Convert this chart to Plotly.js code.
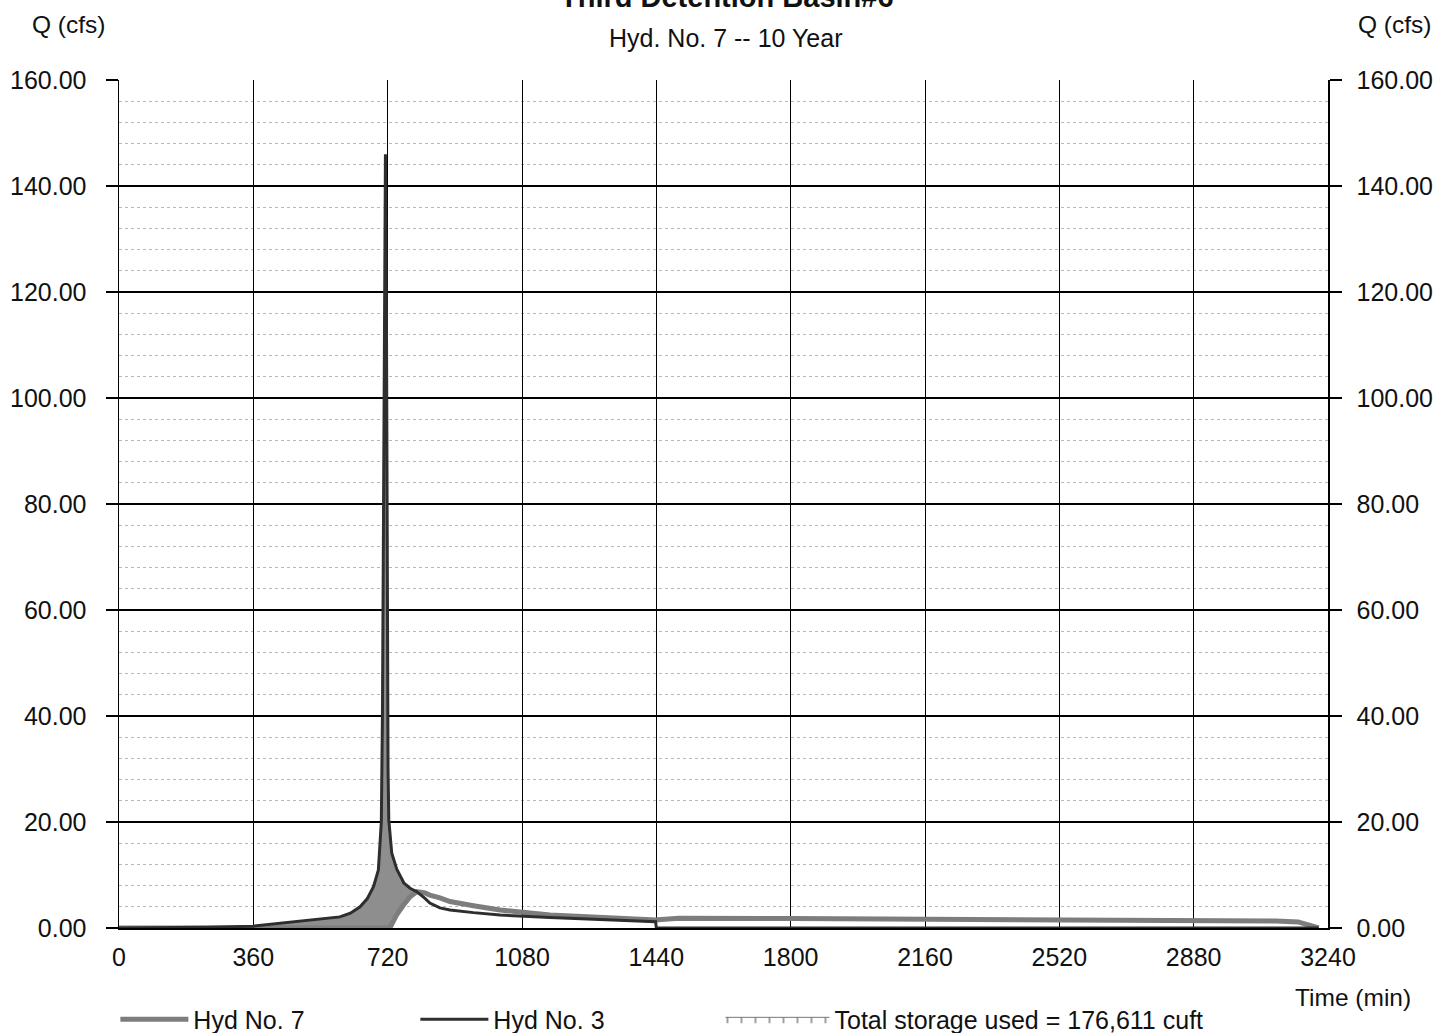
<!DOCTYPE html>
<html>
<head>
<meta charset="utf-8">
<script src="https://cdn.plot.ly/plotly-3.0.1.min.js"></script>
<style>html,body{margin:0;padding:0;background:#fff;}#chart{width:1437px;height:1033px;}</style>
</head>
<body>
<div id="chart"></div>
<script>
// Time (min) shared by both hydrographs
const timeMin = [0, 120, 240, 360, 420, 485, 540, 592, 620, 646, 665, 682, 695, 699, 703, 706, 708, 711, 714, 717, 719, 721, 723, 728, 731, 744, 745, 762, 763, 780, 795, 798, 820, 833, 860, 887, 950, 1021, 1155, 1289, 1380, 1438, 1440, 1445, 1500, 1800, 2160, 2520, 2880, 3100, 3160, 3190, 3205, 3215];
// Hyd No. 7 (basin outflow), cfs
const hyd7 = [0, 0, 0, 0, 0, 0, 0, 0, 0, 0, 0, 0, 0, 0, 0, 0, 0, 0, 0, 0, 0, 0, 0, 0.3, 0.8, 2.5, 2.6, 4.3, 4.4, 5.9, 6.7, 6.85, 6.6, 6.2, 5.7, 5.0, 4.2, 3.4, 2.45, 1.9, 1.65, 1.5, 1.5, 1.55, 1.85, 1.8, 1.7, 1.6, 1.45, 1.3, 1.15, 0.6, 0.1, 0];
// Hyd No. 3 (inflow), cfs
const hyd3 = [0, 0.05, 0.15, 0.35, 0.8, 1.2, 1.6, 2.1, 2.8, 4.0, 5.5, 7.8, 10.9, 14.7, 20, 40, 70, 115, 146, 110, 60, 30, 20.4, 16, 14.1, 11.2, 11.0, 8.7, 8.5, 7.5, 6.95, 6.85, 5.6, 4.7, 3.8, 3.4, 2.9, 2.45, 2.0, 1.6, 1.35, 1.2, 0, 0, 0, 0, 0, 0, 0, 0, 0, 0, 0, 0];
const storageLabel = "Total storage used = 176,611 cuft";
const yTicks = [0, 20, 40, 60, 80, 100, 120, 140, 160];
const xTicks = [0, 360, 720, 1080, 1440, 1800, 2160, 2520, 2880, 3240];

// storage region: from start until inflow falls below outflow after the peak
const peakIdx = hyd3.indexOf(Math.max(...hyd3));
let endIdx = peakIdx;
while (endIdx < hyd3.length - 1 && hyd3[endIdx] > hyd7[endIdx]) endIdx++;
const stT = timeMin.slice(0, endIdx + 1);
const stLow = hyd7.slice(0, endIdx + 1);
const stHigh = hyd3.slice(0, endIdx + 1);

const FONT = "Liberation Sans, Arial, sans-serif";
const FS = 25;

const traces = [
  {x: stT, y: stLow, mode: 'lines', line: {width: 0, color: 'rgba(0,0,0,0)'}, showlegend: false, hoverinfo: 'skip'},
  {x: stT, y: stHigh, mode: 'lines', line: {width: 0, color: 'rgba(0,0,0,0)'}, fill: 'tonexty',
   fillcolor: '#8e8e8e', showlegend: false, hoverinfo: 'skip'},
  {x: timeMin, y: hyd7, mode: 'lines', name: 'Hyd No. 7', line: {color: '#7d7d7d', width: 5}, legend: 'legend'},
  {x: timeMin, y: hyd3, mode: 'lines', name: 'Hyd No. 3', line: {color: '#2e2e2e', width: 3}, legend: 'legend'},
  {x: [null], y: [null], mode: 'lines', name: storageLabel, fill: 'toself', line: {width: 1, color: '#777'},
   fillcolor: '#ffffff', fillpattern: {shape: '|', size: 14, solidity: 0.08, fgcolor: '#555', bgcolor: '#fff'},
   legend: 'legend2'},
  {x: [0], y: [0], yaxis: 'y2', mode: 'markers', marker: {opacity: 0}, showlegend: false, hoverinfo: 'skip'}
];

const yaxBase = {
  range: [0, 160], tickvals: yTicks, tickformat: '.2f', ticks: 'outside', ticklen: 12, tickwidth: 1.5,
  tickcolor: '#000', showgrid: true, gridcolor: '#000', gridwidth: 1.5, zeroline: false,
  showline: true, linecolor: '#000', linewidth: 1.5, ticklabelstandoff: 14,
  tickfont: {family: FONT, size: FS, color: '#111'}, fixedrange: true
};

const legendBase = {orientation: 'h', xanchor: 'left', yanchor: 'middle',
  font: {family: FONT, size: FS, color: '#111'}, bgcolor: 'rgba(0,0,0,0)', borderwidth: 0, traceorder: 'normal'};

const layout = {
  width: 1437, height: 1033,
  margin: {l: 119, r: 109, t: 80, b: 105, autoexpand: false},
  paper_bgcolor: '#fff', plot_bgcolor: '#fff',
  font: {family: FONT, size: FS, color: '#111'},
  xaxis: {range: [0, 3240], tickvals: xTicks, ticks: 'outside', ticklen: 6, tickcolor: 'rgba(0,0,0,0)',
          showgrid: true, gridcolor: '#000', gridwidth: 1, zeroline: false, showline: true, linecolor: '#000', linewidth: 1.5,
          tickfont: {family: FONT, size: FS, color: '#111'}, fixedrange: true},
  yaxis: Object.assign({}, yaxBase, {side: 'left',
          minor: {dtick: 4, showgrid: true, gridcolor: '#b8b8b8', griddash: 'dot', gridwidth: 1, ticks: ''}}),
  yaxis2: Object.assign({}, yaxBase, {side: 'right', overlaying: 'y', showgrid: false, ticklabelstandoff: 10}),
  showlegend: true,
  legend: Object.assign({}, legendBase, {x: -0.003, y: -0.108, itemwidth: 68, entrywidth: 217, entrywidthmode: 'pixels'}),
  legend2: Object.assign({}, legendBase, {x: 0.4975, y: -0.108, itemwidth: 104}),
  annotations: [
    {text: '<b>Third Detention Basin#6</b>', xref: 'paper', yref: 'paper', x: 0.5025, y: 1.0979, xanchor: 'center', yanchor: 'middle',
     showarrow: false, font: {family: FONT, size: 29, color: '#111'}},
    {text: 'Hyd. No. 7 -- 10 Year', xref: 'paper', yref: 'paper', x: 0.5015, y: 1.0495, xanchor: 'center', yanchor: 'middle',
     showarrow: false, font: {family: FONT, size: FS, color: '#111'}},
    {text: 'Q (cfs)', xref: 'paper', yref: 'paper', x: -0.0414, y: 1.0649, xanchor: 'center', yanchor: 'middle',
     showarrow: false, font: {family: FONT, size: 24.5, color: '#111'}},
    {text: 'Q (cfs)', xref: 'paper', yref: 'paper', x: 1.0554, y: 1.0649, xanchor: 'center', yanchor: 'middle',
     showarrow: false, font: {family: FONT, size: 24.5, color: '#111'}},
    {text: 'Time (min)', xref: 'paper', yref: 'paper', x: 1.0207, y: -0.0825, xanchor: 'center', yanchor: 'middle',
     showarrow: false, font: {family: FONT, size: 24.5, color: '#111'}}
  ]
};

Plotly.newPlot('chart', traces, layout, {displayModeBar: false, staticPlot: true});
</script>
</body>
</html>
